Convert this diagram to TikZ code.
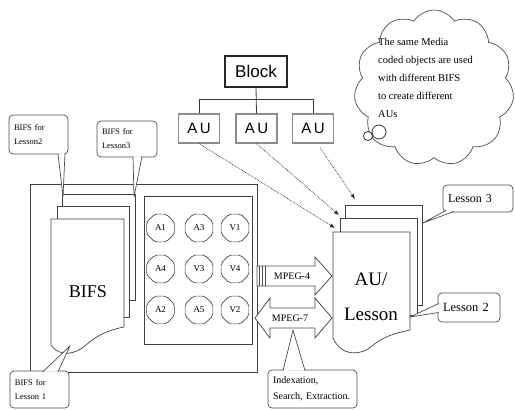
\documentclass[tikz,border=0pt]{standalone}
\usepackage{fontspec}
\setmainfont{Liberation Serif}
\newfontfamily\arialf{Liberation Sans}
\usetikzlibrary{positioning,arrows.meta,shapes.geometric,shapes.symbols,calc}

\begin{document}
\begin{tikzpicture}[x=1pt, y=-1pt,
  ln/.style={draw=black!80, line width=0.8pt},
  blockbox/.style={draw=black!85, line width=1.2pt, minimum width=62pt, minimum height=31pt, inner sep=0pt, font=\arialf\fontsize{17}{17}\selectfont},
  aubox/.style={draw=black!45, line width=1.2pt, minimum width=41pt, minimum height=29pt, inner sep=0pt, font=\arialf\fontsize{15}{15}\selectfont},
  frame/.style={draw=black!75, line width=0.8pt, inner sep=0pt},
  obj/.style={regular polygon, regular polygon sides=8, draw=black!70, line width=0.7pt, minimum size=30pt, inner sep=0pt, rounded corners=2pt, font=\fontsize{9}{9}\selectfont},
  page/.style={draw=black!75, line width=0.7pt, fill=white},
  callout/.style={draw=black!70, line width=0.7pt, fill=white, rounded corners=4pt, align=left, inner xsep=5pt, inner ysep=0pt, font=\fontsize{8.5}{14}\selectfont},
  tail/.style={draw=black!70, line width=0.7pt, fill=white, line join=round},
  auarrow/.style={draw=black!85, line width=0.7pt, densely dotted, -{Latex[length=5pt,width=4pt]}},
  bigarrow/.style={draw=black!70, line width=0.8pt, fill=white, line join=miter},
  bubble/.style={draw=black!80, line width=0.8pt, fill=white}
]
\useasboundingbox (0,0) rectangle (515,410);

\node[blockbox] (blk) at (256,71.5) {Block};
\node[aubox] (au1) at (199,128.5) {A\,U};
\node[aubox] (au2) at (256.5,128.5) {A\,U};
\node[aubox] (au3) at (313,128.5) {A\,U};
\draw[ln] (blk.south) -- (au2.north);
\draw[ln] (au1.north) -- ++(0,-14) -| (au3.north);

\node[frame, minimum width=227pt, minimum height=188pt] (scene) at (143.5,278) {};
\node[frame, minimum width=108pt, minimum height=148pt] (objs) at (198,270) {};

\node[obj] (a1) at (160.5,228) {A1};
\node[obj] (a3) at (199,228) {A3};
\node[obj] (v1) at (235,228) {V1};
\node[obj] (a4) at (160.5,269) {A4};
\node[obj] (v3) at (199,269) {V3};
\node[obj] (v4) at (235,269) {V4};
\node[obj] (a2) at (160.5,310) {A2};
\node[obj] (a5) at (199,310) {A5};
\node[obj] (v2) at (235,310) {V2};

\draw[page] (62,194) rectangle (135,300);
\draw[page] (57,206) rectangle (129,317);
\draw[page] (51,219) -- (124,219) -- (124,327)
  .. controls (108,330) and (96,336) .. (86,345)
  .. controls (76,354) and (60,358) .. (51,345) -- cycle;
\node[font=\fontsize{18}{18}\selectfont] (bifs) at (88,292) {BIFS};

\draw[page] (345,205) rectangle (422,305);
\draw[page] (340,218) rectangle (417,315);
\draw[page] (333,232) -- (410,232) -- (410,330)
  .. controls (396,333) and (384,336) .. (372,346)
  .. controls (362,355) and (342,358) .. (333,338) -- cycle;
\node[align=center, font=\fontsize{19}{35}\selectfont] (lesson) at (371,297) {AU/\\Lesson};

\coordinate (t1) at (335,228);
\coordinate (t2) at (339,215);
\coordinate (t3) at (355,199);
\draw[auarrow] (au1.south) -- (t1);
\draw[auarrow] (au2.south) -- (t2);
\draw[auarrow] ([xshift=7pt,yshift=-4pt]au3.south) -- (t3);

\draw[bigarrow] (257,266) -- (315,266) -- (315,257) -- (332,276) -- (315,295) -- (315,286) -- (257,286) -- cycle;
\foreach \x in {259.5,262.5,265.5}
  \draw[draw=black!70, line width=0.8pt] (\x,266) -- (\x,286);
\draw[bigarrow] (255,318) -- (270,298) -- (270,308) -- (315,308) -- (315,298) -- (332,318)
  -- (315,338) -- (315,328) -- (270,328) -- (270,338) -- cycle;
\node[font=\fontsize{10}{10}\selectfont] (mpfour) at (292,276) {MPEG-4};
\node[font=\fontsize{10}{10}\selectfont] (mpseven) at (290,318) {MPEG-7};

\node[callout, text width=49pt, minimum height=39pt] (cb2) at (38.5,134.5) {BIFS for\\Lesson2};
\coordinate (cb2tip) at (63,197);
\path[tail] ([xshift=19.5pt,yshift=1pt]cb2.south) -- (cb2tip) -- ([xshift=26.5pt,yshift=1pt]cb2.south);

\node[callout, text width=50pt, minimum height=36pt] (cb3) at (127,139) {BIFS for\\Lesson3};
\coordinate (cb3tip) at (134,197);
\path[tail] ([xshift=6pt,yshift=1pt]cb3.south) -- (cb3tip) -- ([xshift=15pt,yshift=1pt]cb3.south);

\node[callout, text width=49pt, minimum height=37pt] (cb1) at (39.5,389.5) {BIFS for\\Lesson 1};
\coordinate (cb1tip) at (70,346);
\path[tail] ([xshift=3.5pt,yshift=-1pt]cb1.north) -- (cb1tip) -- ([xshift=18.5pt,yshift=-1pt]cb1.north);

\node[callout, text width=60pt, minimum height=27pt, font=\fontsize{12}{12}\selectfont] (cl3) at (478,198.5) {Lesson 3};
\coordinate (cl3tip) at (423,223);
\path[tail] ([xshift=-32pt,yshift=2pt]cl3.south) -- (cl3tip) -- ([xshift=-24pt,yshift=1pt]cl3.south);

\node[callout, text width=52pt, minimum height=29pt, font=\fontsize{12.5}{12.5}\selectfont] (cl2) at (469,307.5) {Lesson 2};
\coordinate (cl2tip) at (410,317);
\path[tail] ([xshift=1pt,yshift=4pt]cl2.west) -- (cl2tip) -- ([xshift=1pt,yshift=-5pt]cl2.west);

\node[callout, text width=79pt, minimum height=38pt, font=\fontsize{10}{16}\selectfont] (cidx) at (312.5,389) {Indexation,\\Search, Extraction.};
\coordinate (cidxtip) at (293,330);
\path[tail] ([xshift=-29.5pt,yshift=-1pt]cidx.north) -- (cidxtip) -- ([xshift=-7.5pt,yshift=-1pt]cidx.north);

\node[cloud, cloud puffs=11, cloud puff arc=115, aspect=1, draw=black!70, line width=0.7pt, fill=white, minimum width=160pt, minimum height=156pt] (thought) at (434,88) {};
\node[anchor=north west, align=left, inner sep=0pt, font=\fontsize{10.5}{18}\selectfont] (thoughttxt) at (378,38) {The same Media\\coded objects are used\\with different BIFS\\to create different\\AUs};
\coordinate (bub2) at (368,136);
\coordinate (bub1) at (379,132);
\draw[bubble] (bub2) circle[radius=4.5pt];
\draw[bubble] (bub1) circle[radius=7pt];

\end{tikzpicture}
\end{document}
